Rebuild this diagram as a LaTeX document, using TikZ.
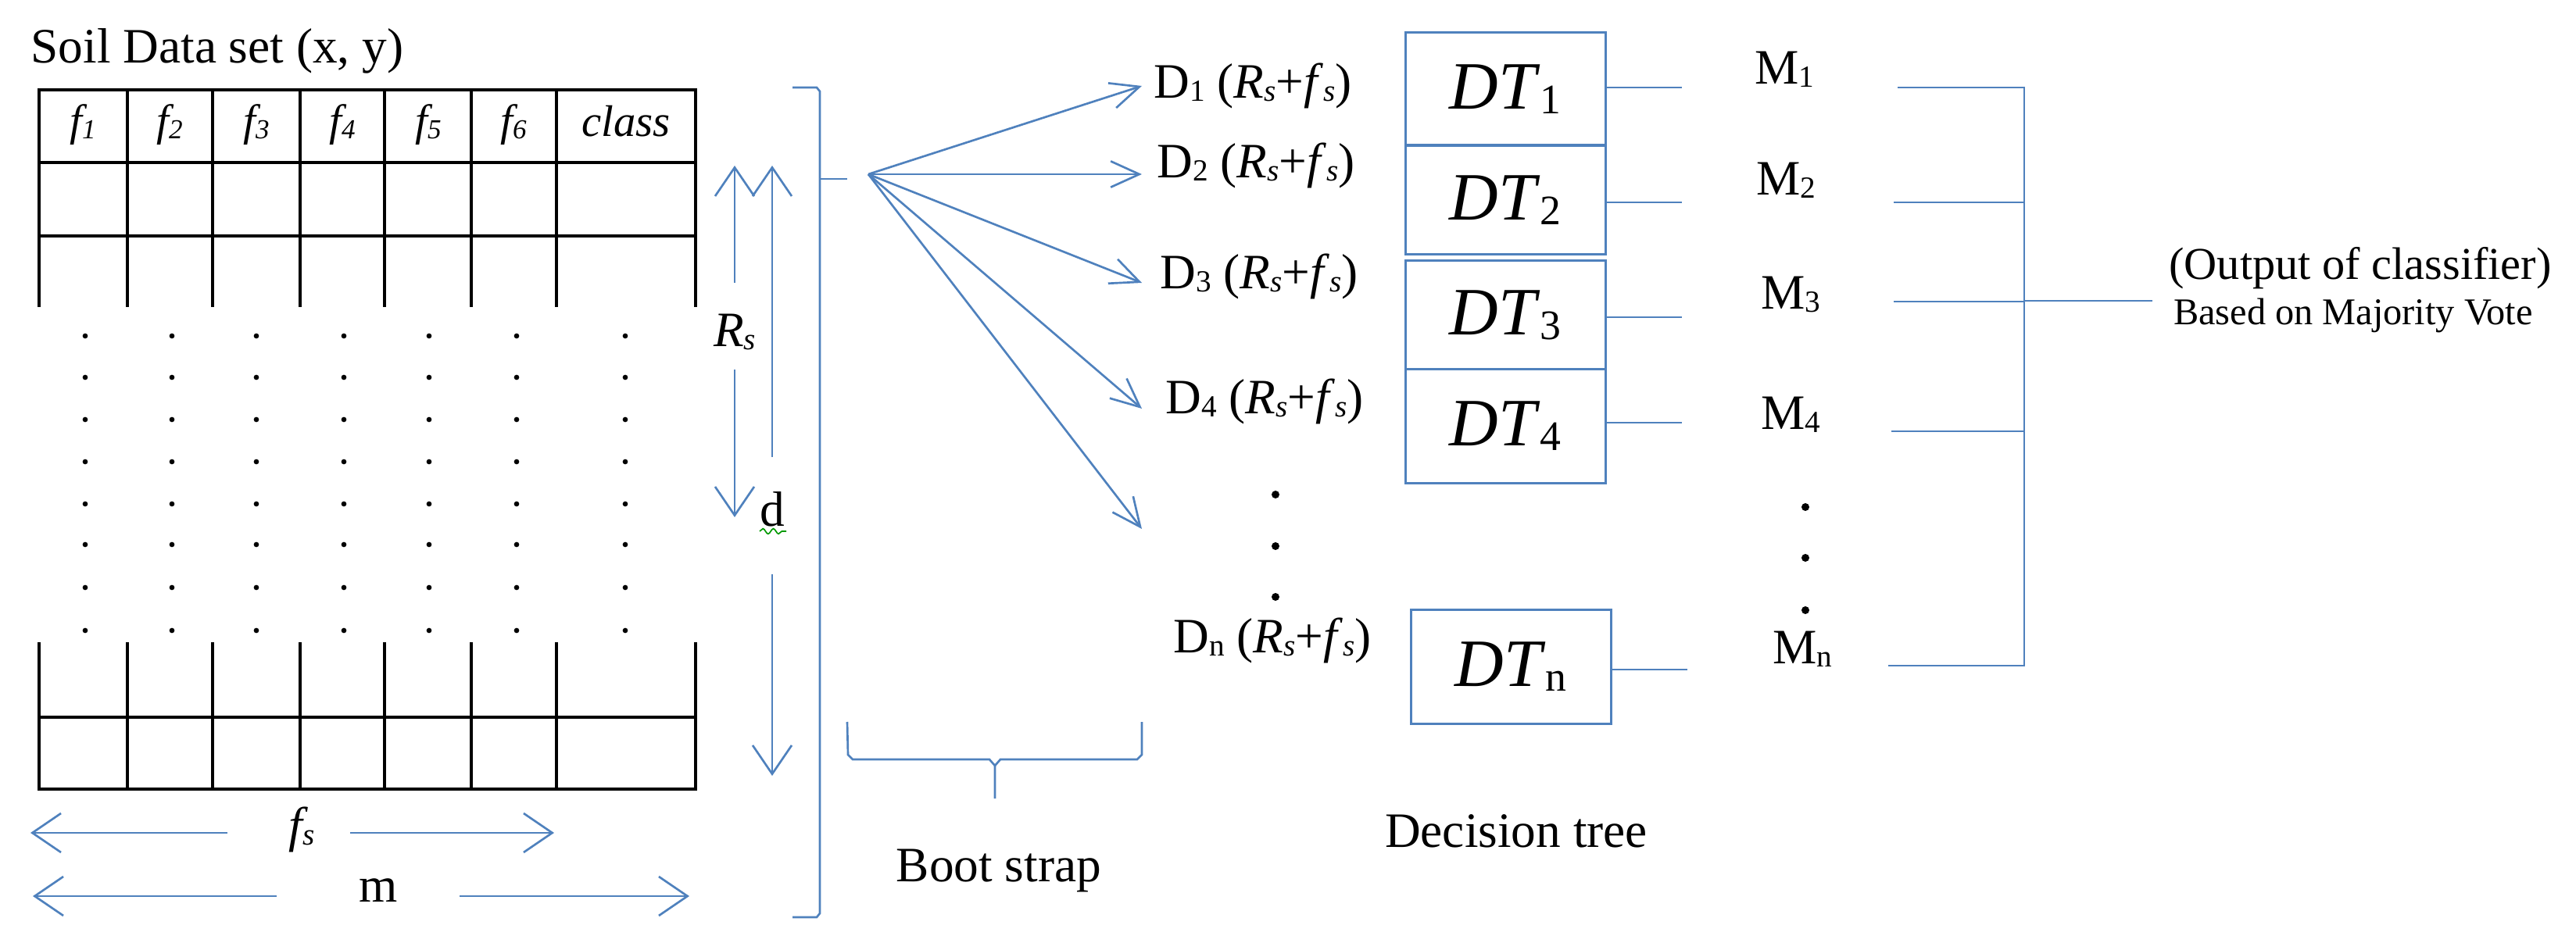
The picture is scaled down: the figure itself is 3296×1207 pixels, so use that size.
\documentclass[tikz,border=0pt]{standalone}
\usepackage{fontspec}
\setmainfont{Liberation Serif}
\usepackage{graphicx}
\usetikzlibrary{arrows.meta,decorations.pathmorphing}
\newcommand\lsub[1]{\raisebox{-0.15ex}{\scalebox{0.62}{#1}}}
\newcommand\RF{(\textit{R}\lsub{\textit{s}}+\textit{f}\lsub{\textit{s}})}
\definecolor{bcol}{HTML}{4F81BD}
\begin{document}
\begin{tikzpicture}[x=0.3pt,y=-0.3pt,
  tab/.style={line width=1.1pt,black},
  bline/.style={line width=0.8pt,draw=bcol},
  big/.style={bline,-{Straight Barb[length=11pt,width=15pt]}},
  fan/.style={bline,-{Straight Barb[length=11pt,width=10pt]}},
  hd/.style={font=\fontsize{17}{20}\selectfont\itshape},
  lab/.style={font=\fontsize{19}{22}\selectfont,inner sep=0pt},
  dtb/.style={draw=bcol,line width=0.9pt,font=\fontsize{26}{28}\selectfont,inner sep=0pt,minimum width=76.8pt},
  dot/.style={circle,fill=black,inner sep=0pt,minimum size=2pt}]
\useasboundingbox (0,0) rectangle (3296,1207);
% title
\node[lab,anchor=base west] (title) at (39,81) {Soil Data set (x, y)};
% table
\draw[tab] (50,393) -- (50,115) -- (890,115) -- (890,393);
\draw[tab] (50,208) -- (890,208) (50,302) -- (890,302);
\draw[tab] (50,822) -- (50,1010) -- (890,1010) -- (890,822);
\draw[tab] (50,918) -- (890,918);
\foreach \x in {163,272,384,492,603,712}{
  \draw[tab] (\x,115) -- (\x,393) (\x,822) -- (\x,1010);}
\node[hd] (h1) at (106,160) {f\lsub{1}};
\node[hd] (h2) at (217,160) {f\lsub{2}};
\node[hd] (h3) at (328,160) {f\lsub{3}};
\node[hd] (h4) at (438,160) {f\lsub{4}};
\node[hd] (h5) at (548,160) {f\lsub{5}};
\node[hd] (h6) at (657,160) {f\lsub{6}};
\node[hd] (hc) at (801,155) {class};
\foreach \x in {109,220,328,440,549,661,800}
  \foreach \y in {430,483,537,591,645,697,752,807}
    \node[dot] at (\x,\y) {};
% fs and m arrows
\node[lab,font=\fontsize{19}{22}\selectfont\itshape] (fs) at (386,1062) {f\lsub{s}};
\coordinate (fsl) at (39,1066); \coordinate (fsr) at (709,1066);
\draw[big] (291,1066) -- (fsl);
\draw[big] (448,1066) -- (fsr);
\node[lab] (m) at (484,1140) {m};
\coordinate (ml) at (42,1147); \coordinate (mr) at (882,1147);
\draw[big] (354,1147) -- (ml);
\draw[big] (588,1147) -- (mr);
% Rs and d arrows
\node[lab,font=\fontsize{19}{22}\selectfont\itshape] (rs) at (940,425) {R\lsub{s}};
\coordinate (rst) at (940,212); \coordinate (rsb) at (940,662);
\draw[big] (940,362) -- (rst);
\draw[big] (940,473) -- (rsb);
\node[lab] (d) at (988,652) {d};
\draw[green!60!black,line width=0.5pt,decorate,decoration={snake,amplitude=1pt,segment length=4pt}] (972,680) -- (1006,680);
\coordinate (dt) at (988,212); \coordinate (db) at (988,993);
\draw[big] (988,585) -- (dt);
\draw[big] (988,735) -- (db);
% big brace
\draw[bline] (1014,112) -- (1045,112) -- (1049,117) -- (1049,1169) -- (1045,1174) -- (1014,1174);
\coordinate (src) at (1111,223);
\draw[bline] (1049,229) -- (1084,229);
% fan
\node[lab,anchor=west] (D1) at (1476,110) {D\lsub{1} \RF};
\node[lab,anchor=west] (D2) at (1480,212) {D\lsub{2} \RF};
\node[lab,anchor=west] (D3) at (1484,354) {D\lsub{3} \RF};
\node[lab,anchor=west] (D4) at (1491,514) {D\lsub{4} \RF};
\node[lab,anchor=west] (Dn) at (1501,820) {D\lsub{n} \RF};
\coordinate (e5) at (1461,677);
\draw[fan] (src) -- (1461,110);
\draw[fan] (src) -- (1461,223);
\draw[fan] (src) -- (1461,362);
\draw[fan] (src) -- (1461,523);
\draw[fan] (src) -- (e5);
\foreach \y in {633,699,764} \node[dot,minimum size=3pt] at (1632,\y) {};
% bootstrap brace
\draw[bline] (1084,924) -- (1085,966) -- (1091,972) -- (1266,972) -- (1273,980) -- (1273,1022);
\draw[bline] (1273,980) -- (1280,972) -- (1455,972) -- (1461,966) -- (1461,924);
\node[lab] (bs) at (1278,1114) {Boot strap};
% DT boxes
\node[dtb,minimum height=43.2pt] (T1) at (1926,114) {\textit{DT}\lsub{1}};
\node[dtb,minimum height=41.7pt] (T2) at (1926,256) {\textit{DT}\lsub{2}};
\node[dtb,minimum height=41.7pt] (T3) at (1926,403) {\textit{DT}\lsub{3}};
\node[dtb,minimum height=43.8pt] (T4) at (1926,545) {\textit{DT}\lsub{4}};
\node[dtb,minimum height=43.8pt] (Tn) at (1933,853) {\textit{DT}\lsub{n}};
\node[lab] (dtree) at (1940,1064) {Decision tree};
% M labels
\node[lab] (M1) at (2283,89) {M\lsub{1}};
\node[lab] (M2) at (2285,231) {M\lsub{2}};
\node[lab] (M3) at (2291,377) {M\lsub{3}};
\node[lab] (M4) at (2291,531) {M\lsub{4}};
\node[lab] (Mn) at (2306,831) {M\lsub{n}};
\foreach \y in {649,714,781} \node[dot,minimum size=3pt] at (2310,\y) {};
\coordinate (a1) at (2152,112); \coordinate (a2) at (2152,259);
\coordinate (a3) at (2152,406); \coordinate (a4) at (2152,541);
\coordinate (an) at (2159,857);
\draw[bline] (T1.east |- a1) -- (a1);
\draw[bline] (T2.east |- a2) -- (a2);
\draw[bline] (T3.east |- a3) -- (a3);
\draw[bline] (T4.east |- a4) -- (a4);
\draw[bline] (Tn.east |- an) -- (an);
% vote
\coordinate (v1) at (2428,112); \coordinate (v2) at (2423,259);
\coordinate (v3) at (2423,386); \coordinate (v4) at (2420,552);
\coordinate (vn) at (2416,852); \coordinate (vo) at (2754,385);
\draw[bline] (v1) -- (2590,112) -- (2590,852) -- (vn);
\draw[bline] (v2) -- (2590,259);
\draw[bline] (v3) -- (2590,386);
\draw[bline] (v4) -- (2590,552);
\draw[bline] (2590,385) -- (vo);
\node[lab,font=\fontsize{17.5}{20}\selectfont] (out) at (3020,343) {(Output of classifier)};
\node[lab,font=\fontsize{14.5}{17}\selectfont] (maj) at (3011,404) {Based on Majority Vote};
\end{tikzpicture}
\end{document}
